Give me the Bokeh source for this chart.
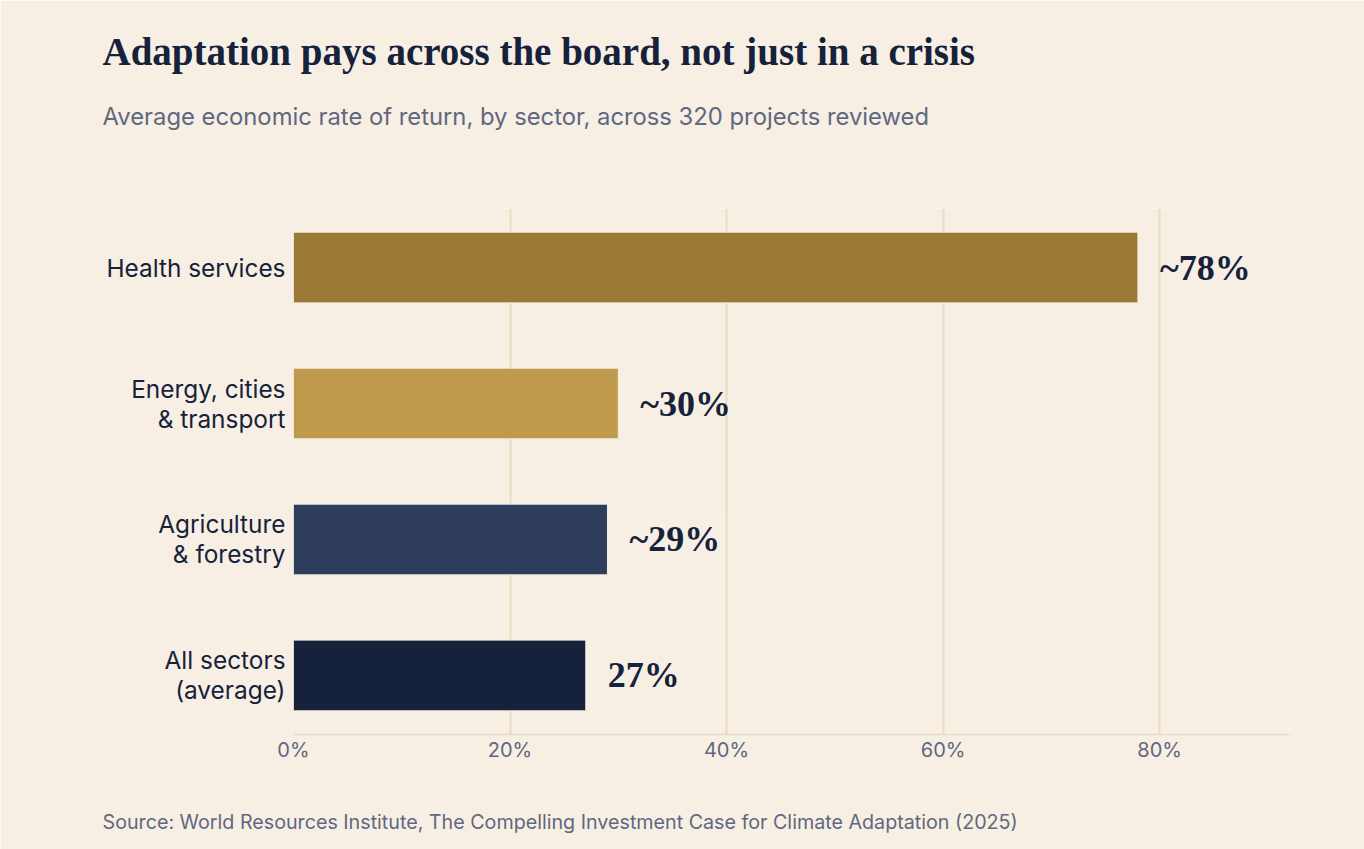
from bokeh.plotting import figure
from bokeh.models import ColumnDataSource, Range1d, FixedTicker, Title, NumeralTickFormatter
from bokeh.core.properties import value
from bokeh.embed import file_html
from bokeh.resources import INLINE

sectors = ["Health services", "Energy, cities\n& transport", "Agriculture\n& forestry", "All sectors\n(average)"]
returns = [78, 30, 29, 27]
value_labels = ["~78%", "~30%", "~29%", "27%"]
colors = ["#9c7a35", "#bf994c", "#2d3d5b", "#16223b"]
positions = [3, 2, 1, 0]
x_ticks = [0, 20, 40, 60, 80]

BG = "#f7efe3"
NAVY = "#16223b"
GRAY = "#5f6880"
GRID = "#e8dcc3"
SERIF = "Liberation Serif"
SANS = "Inter"

W, H = 1364, 849
FRAME_LEFT, FRAME_BOTTOM = 293, 734
TEXT_LEFT = 102

src = ColumnDataSource(dict(y=positions, right=returns, color=colors, label=value_labels))

p = figure(width=W, height=H, output_backend="svg", toolbar_location=None,
           x_range=Range1d(0, 92), y_range=Range1d(-0.434, 3.434),
           min_border_left=FRAME_LEFT, min_border_right=75, min_border_top=208,
           min_border_bottom=H - FRAME_BOTTOM)
p.background_fill_color = BG
p.border_fill_color = BG
p.outline_line_color = None

p.hbar(y="y", left=0, right="right", height=0.52, fill_color="color", line_color=BG, line_width=1, source=src)
p.text(x="right", y="y", text="label", x_offset=22, text_align="left", text_baseline="middle",
       text_font=value(SERIF), text_font_style="bold", text_font_size="36px", text_color=NAVY, source=src)

p.xgrid.ticker = FixedTicker(ticks=x_ticks)
p.xgrid.grid_line_color = GRID
p.xgrid.grid_line_width = 2
p.ygrid.grid_line_color = None

xa = p.xaxis[0]
xa.ticker = FixedTicker(ticks=x_ticks)
xa.formatter = NumeralTickFormatter(format="0")
xa.major_label_overrides = {t: f"{t}%" for t in x_ticks}
xa.axis_line_color = GRID
xa.axis_line_width = 1.5
xa.major_tick_line_color = None
xa.minor_tick_line_color = None
xa.major_label_text_font = SANS
xa.major_label_text_font_size = "20px"
xa.major_label_text_color = GRAY
xa.major_label_standoff = -3

ya = p.yaxis[0]
ya.ticker = FixedTicker(ticks=positions)
ya.major_label_overrides = {pos: s for pos, s in zip(positions, sectors)}
ya.axis_line_color = None
ya.major_tick_line_color = None
ya.minor_tick_line_color = None
ya.major_label_text_font = SANS
ya.major_label_text_font_size = "24.4px"
ya.major_label_text_color = NAVY
ya.major_label_text_line_height = 1.0
ya.major_label_standoff = 2

off = TEXT_LEFT - FRAME_LEFT

def spacer(gap):
    return Title(text=" ", text_font_size="1px", standoff=gap, text_color=BG)

# above panels stack outward from the frame
p.add_layout(spacer(48), "above")
p.add_layout(Title(text="Average economic rate of return, by sector, across 320 projects reviewed",
                   align="left", offset=off, standoff=54, text_font=SANS, text_font_style="normal",
                   text_font_size="23.8px", text_color=GRAY), "above")
p.add_layout(Title(text="Adaptation pays across the board, not just in a crisis",
                   align="left", offset=off, standoff=0, text_font=SERIF, text_font_style="bold",
                   text_font_size="39px", text_color=NAVY), "above")
# below panels stack outward from the axis
p.add_layout(spacer(40), "below")
p.add_layout(Title(text="Source: World Resources Institute, The Compelling Investment Case for Climate Adaptation (2025)",
                   align="left", offset=off, standoff=0, text_font=SANS, text_font_style="normal",
                   text_font_size="19.7px", text_color=GRAY), "below")

open("out.html", "w").write(file_html(p, INLINE))
